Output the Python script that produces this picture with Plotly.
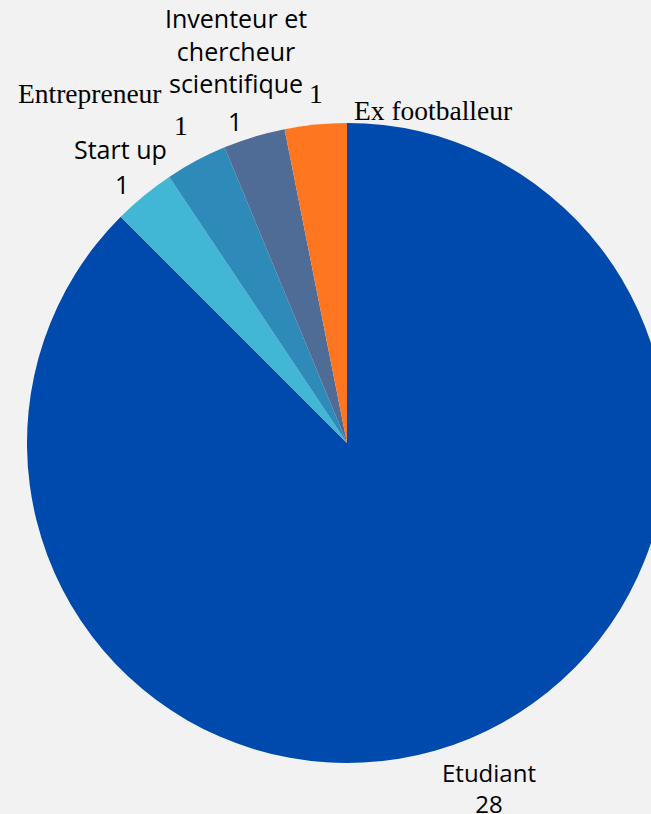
import plotly.graph_objects as go

# ---- data ----
labels = ["Etudiant", "Start up", "Entrepreneur",
          "Inventeur et chercheur scientifique", "Ex footballeur"]
values = [28, 1, 1, 1, 1]
label_lines = ["Etudiant", "Start up", "Entrepreneur",
               "Inventeur et<br>chercheur<br>scientifique", "Ex footballeur"]

# ---- styles ----
colors = ["#004AAD", "#41B7D5", "#2E8AB8", "#4E6C96", "#FF7620"]
SANS = "Open Sans"
SERIF = "Liberation Serif"
label_fonts = [SANS, SANS, SERIF, SANS, SERIF]
label_sizes = [24, 25, 27.5, 25, 27.5]
# name and value drawn together in one text block (True) or as two texts
joined = [True, False, False, False, False]
# pixel positions (centres) for name and value texts, as placed in the reference
name_pos = [(489, 788), (120, 149), (90, 93), (236, 51), (433, 110)]
value_pos = [None, (122, 184), (181, 125), (235, 121), (316, 93)]

W, H = 667, 814
L, R, T, B = 27, 0, 123, 51
PW, PH = W - L - R, H - T - B


def paper(px, py):
    return (px - L) / PW, 1 - (py - T) / PH


fig = go.Figure(go.Pie(
    labels=labels, values=values, sort=False, direction="clockwise",
    rotation=0, marker=dict(colors=colors, line=dict(width=0)),
    textinfo="none", hoverinfo="label+value", showlegend=False,
))

ann = []
for i in range(len(labels)):
    f = dict(family=label_fonts[i], size=label_sizes[i], color="#000000")
    x, y = paper(*name_pos[i])
    txt = label_lines[i] + ("<br>" + str(values[i]) if joined[i] else "")
    ann.append(dict(x=x, y=y, xref="paper", yref="paper", text=txt,
                    showarrow=False, font=f, xanchor="center", yanchor="middle"))
    if not joined[i]:
        x, y = paper(*value_pos[i])
        ann.append(dict(x=x, y=y, xref="paper", yref="paper", text=str(values[i]),
                        showarrow=False, font=f, xanchor="center", yanchor="middle"))

fig.update_layout(
    width=W, height=H, margin=dict(l=L, r=R, t=T, b=B),
    paper_bgcolor="#f2f2f2", plot_bgcolor="#f2f2f2",
    annotations=ann,
)
fig.write_html(
    "out.html",
    config={"displayModeBar": False},
    post_script="document.body.style.margin='0';"
                "document.body.style.overflow='hidden';"
                "document.documentElement.style.overflow='hidden';",
)
